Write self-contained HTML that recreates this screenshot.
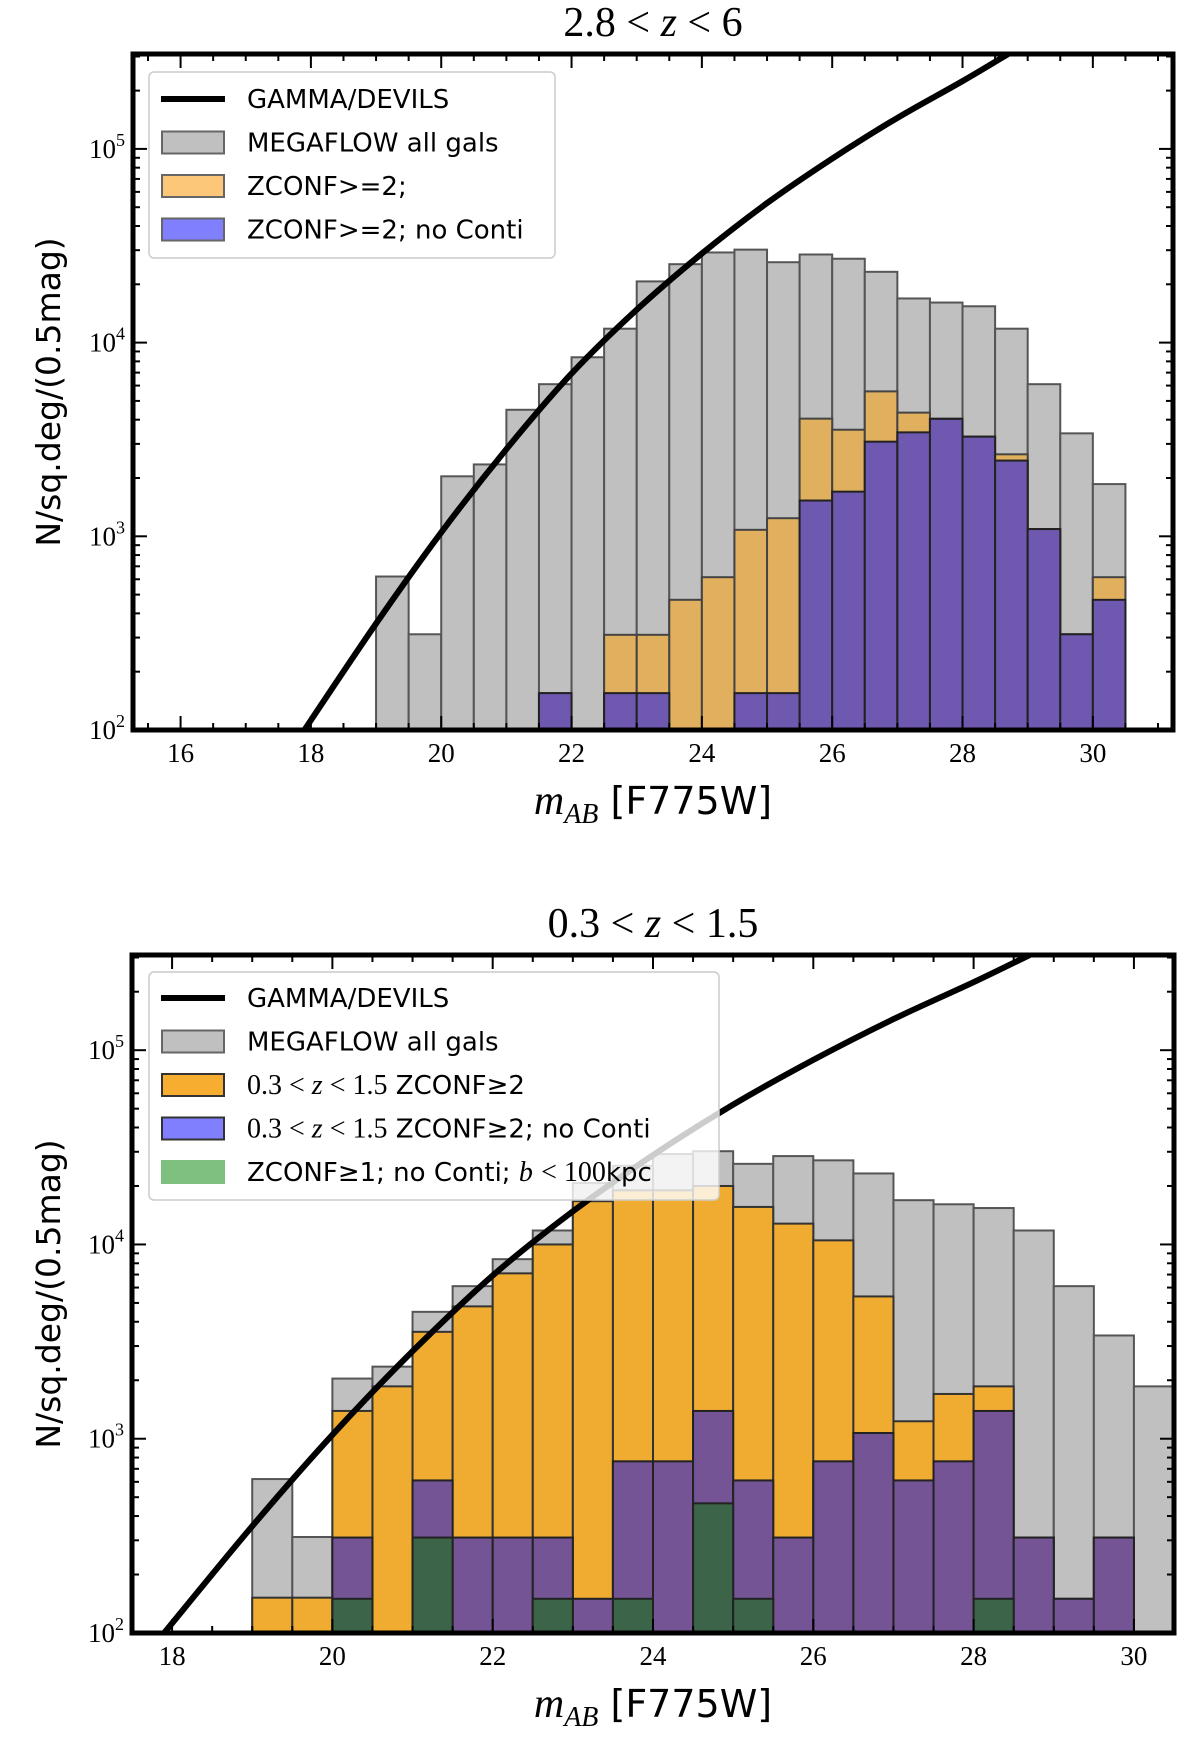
<!DOCTYPE html>
<html><head><meta charset="utf-8">
<style>
html,body{margin:0;padding:0;background:#fff;}
svg{display:block;}
.serif{font-family:"Liberation Serif","DejaVu Serif",serif;}
.sans{font-family:"DejaVu Sans","Liberation Sans",sans-serif;}
</style></head>
<body>
<svg id="fig" width="1200" height="1744" viewBox="0 0 1200 1744" xmlns="http://www.w3.org/2000/svg"></svg>
<script>
// ---- data ----
const binStarts = [19,19.5,20,20.5,21,21.5,22,22.5,23,23.5,24,24.5,25,25.5,26,26.5,27,27.5,28,28.5,29,29.5,30];
const grayAll = [620,312,2040,2350,4500,6100,8400,11800,20700,25400,29200,30200,26000,28500,27100,23200,16900,16100,15400,11800,6100,3400,1860];
const topOrange = [0,0,0,0,0,155,0,310,310,470,615,1080,1240,4050,3550,5600,4350,4050,3270,2650,1090,312,615];
const topPurple = [0,0,0,0,0,155,0,155,155,0,0,155,155,1530,1700,3080,3440,4040,3270,2460,1090,312,470];
const botOrange = [152,152,1390,1860,3550,4800,7100,10000,16700,19000,19000,20000,15600,12800,10500,5400,1230,1700,1860,310,150,310,0];
const botPurple = [0,0,310,0,610,310,310,310,150,765,765,1390,610,310,765,1070,610,765,1390,310,150,310,0];
const botGreen = [0,0,150,0,310,0,0,150,0,150,0,465,150,0,0,0,0,0,150,0,0,0,0];
const curveMag = [17.9,19,20,21,22,23,24,25,26,27,28,28.7];
const curveLog = [2.0,2.55,3.02,3.45,3.84,4.17,4.46,4.72,4.95,5.16,5.35,5.49];
const topXTicks = [16,18,20,22,24,26,28,30];
const botXTicks = [18,20,22,24,26,28,30];
const yTickExps = [2,3,4,5];

const NS="http://www.w3.org/2000/svg";
const svg=document.getElementById('fig');
function mk(tag,attrs,parent){const e=document.createElementNS(NS,tag);for(const k in attrs)e.setAttribute(k,attrs[k]);(parent||svg).appendChild(e);return e;}

function panel(cfg){
  const g=mk('g',{});
  
  
  const L=cfg.L,R=cfg.R,T=cfg.T,B=cfg.B;
  const xs=m=>L+(m-cfg.x0)/(cfg.x1-cfg.x0)*(R-L);
  const ys=v=>B-(Math.log10(v)-2)/(cfg.ymax-2)*(B-T);
  const ysl=l=>B-(l-2)/(cfg.ymax-2)*(B-T);
  const clip=mk('clipPath',{id:cfg.name+'-clip'},g);
  mk('rect',{x:L,y:T,width:R-L,height:B-T},clip);
  const plot=mk('g',{'clip-path':'url(#'+cfg.name+'-clip)'},g);
  cfg.series.forEach(s=>{
    s.vals.forEach((v,i)=>{
      if(v<=0)return;
      const x0=xs(binStarts[i]),x1=xs(binStarts[i]+0.5),y=ys(v);
      const r=mk('rect',{x:x0,y:y,width:x1-x0,height:B-y,fill:s.fill,stroke:s.stroke,'stroke-width':2},plot);
      
      
    });
  });
  // smooth catmull-rom curve
  const P=curveMag.map((m,i)=>[xs(m),ysl(curveLog[i])]);
  let d='M'+P[0][0].toFixed(1)+','+P[0][1].toFixed(1);
  for(let i=0;i<P.length-1;i++){
    const p0=P[Math.max(0,i-1)],p1=P[i],p2=P[i+1],p3=P[Math.min(P.length-1,i+2)];
    const c1=[p1[0]+(p2[0]-p0[0])/6,p1[1]+(p2[1]-p0[1])/6];
    const c2=[p2[0]-(p3[0]-p1[0])/6,p2[1]-(p3[1]-p1[1])/6];
    d+='C'+c1[0].toFixed(1)+','+c1[1].toFixed(1)+' '+c2[0].toFixed(1)+','+c2[1].toFixed(1)+' '+p2[0].toFixed(1)+','+p2[1].toFixed(1);
  }
  const c=mk('path',{d:d,fill:'none',stroke:'#000','stroke-width':6},plot);
  
  
  // ticks
  for(let m=Math.ceil(cfg.x0*2)/2;m<=cfg.x1;m+=0.5){
    const maj=cfg.xticks.includes(m);const len=maj?14:7;
    mk('line',{x1:xs(m),x2:xs(m),y1:B,y2:B-len,stroke:'#000','stroke-width':2},g);
    mk('line',{x1:xs(m),x2:xs(m),y1:T,y2:T+len,stroke:'#000','stroke-width':2},g);
  }
  cfg.xticks.forEach(m=>{
    const t=mk('text',{x:xs(m),y:B+32,'text-anchor':'middle','font-size':27,class:'serif'},g);
    t.textContent=m;
    
    
  });
  for(let e=2;e<6;e++){for(let k=1;k<10;k++){const l=e+Math.log10(k);if(l>cfg.ymax)break;
    const len=k==1?14:7;
    mk('line',{x1:L,x2:L+len,y1:ysl(l),y2:ysl(l),stroke:'#000','stroke-width':2},g);
    mk('line',{x1:R,x2:R-len,y1:ysl(l),y2:ysl(l),stroke:'#000','stroke-width':2},g);}}
  yTickExps.forEach(e=>{
    const t=mk('text',{x:L-8,y:ysl(e)+9,'text-anchor':'end','font-size':27,class:'serif'},g);
    t.innerHTML='10<tspan dy="-12" font-size="18">'+e+'</tspan>';
    
    
  });
  mk('rect',{x:L,y:T,width:R-L,height:B-T,fill:'none',stroke:'#000','stroke-width':5},g);
  // title
  const tt=mk('text',{x:(L+R)/2,y:T-18,'text-anchor':'middle','font-size':42,class:'serif'},g);
  tt.innerHTML=cfg.title;
  
  
  const xl=mk('text',{x:(L+R)/2,y:B+84,'text-anchor':'middle','font-size':42,class:'serif'},g);
  xl.innerHTML='<tspan font-style="italic">m</tspan><tspan font-style="italic" font-size="28" dy="9">AB</tspan><tspan dy="-9" font-family="DejaVu Sans, sans-serif" font-size="38"> [F775W]</tspan>';
  
  
  const yl=mk('text',{x:0,y:0,'text-anchor':'middle','font-size':33,class:'sans',transform:'translate(60,'+((T+B)/2)+') rotate(-90)'},g);
  yl.textContent='N/sq.deg/(0.5mag)';
  
  
  // legend
  const lg=mk('g',{},g);
  
  
  mk('rect',{x:cfg.lg.x,y:cfg.lg.y,width:cfg.lg.w,height:cfg.lg.h,rx:5,fill:'rgba(255,255,255,0.8)',stroke:'#ccc','stroke-width':1.5},lg);
  cfg.lg.items.forEach((it,i)=>{
    const cy=cfg.lg.y0+i*cfg.lg.dy;
    if(it.line){mk('line',{x1:161,x2:225,y1:cy,y2:cy,stroke:'#000','stroke-width':6},lg);}
    else mk('rect',{x:162,y:cy-11,width:62,height:22,fill:it.fill,stroke:it.stroke,'stroke-width':2},lg);
    const t=mk('text',{x:247,y:cy+9,'font-size':26,class:'sans'},lg);
    t.innerHTML=it.label;
    
    
  });
}

panel({name:'top-panel',L:133,R:1173,T:54,B:730,x0:15.27,x1:31.23,ymax:5.49,xticks:topXTicks,
 title:'2.8 &lt; <tspan font-style="italic">z</tspan> &lt; 6',
 series:[{name:'megaflow-all',vals:grayAll,fill:'#c0c0c0',stroke:'#555'},
         {name:'zconf2',vals:topOrange,fill:'#e1b05e',stroke:'#444'},
         {name:'zconf2-no-conti',vals:topPurple,fill:'#6f58b0',stroke:'#222'}],
 lg:{x:149,y:72,w:406,h:186,y0:99,dy:43.5,items:[
   {line:true,label:'GAMMA/DEVILS'},
   {fill:'#c0c0c0',stroke:'#666',label:'MEGAFLOW all gals'},
   {fill:'#fdc77a',stroke:'#666',label:'ZCONF&gt;=2;'},
   {fill:'#8080ff',stroke:'#666',label:'ZCONF&gt;=2; no Conti'}]}});

panel({name:'bottom-panel',L:132,R:1174,T:955,B:1633,x0:17.5,x1:30.5,ymax:5.49,xticks:botXTicks,
 title:'0.3 &lt; <tspan font-style="italic">z</tspan> &lt; 1.5',
 series:[{name:'megaflow-all',vals:grayAll,fill:'#c0c0c0',stroke:'#555'},
         {name:'lowz-zconf2',vals:botOrange,fill:'#f0ac30',stroke:'#333'},
         {name:'lowz-zconf2-no-conti',vals:botPurple,fill:'#745494',stroke:'#222'},
         {name:'zconf1-b100',vals:botGreen,fill:'#3b6448',stroke:'#222'}],
 lg:{x:149,y:972,w:570,h:228,y0:998,dy:43.5,items:[
   {line:true,label:'GAMMA/DEVILS'},
   {fill:'#c0c0c0',stroke:'#666',label:'MEGAFLOW all gals'},
   {fill:'#f7ad30',stroke:'#333',label:'<tspan class="serif" font-size="28">0.3 &lt; <tspan font-style="italic">z</tspan> &lt; 1.5</tspan> ZCONF≥2'},
   {fill:'#8080ff',stroke:'#333',label:'<tspan class="serif" font-size="28">0.3 &lt; <tspan font-style="italic">z</tspan> &lt; 1.5</tspan> ZCONF≥2; no Conti'},
   {fill:'#7fbf7f',stroke:'#7fbf7f',label:'ZCONF≥1; no Conti; <tspan class="serif" font-style="italic" font-size="28">b</tspan> <tspan class="serif" font-size="28">&lt; 100</tspan>kpc'}]}});
</script>
</body></html>
